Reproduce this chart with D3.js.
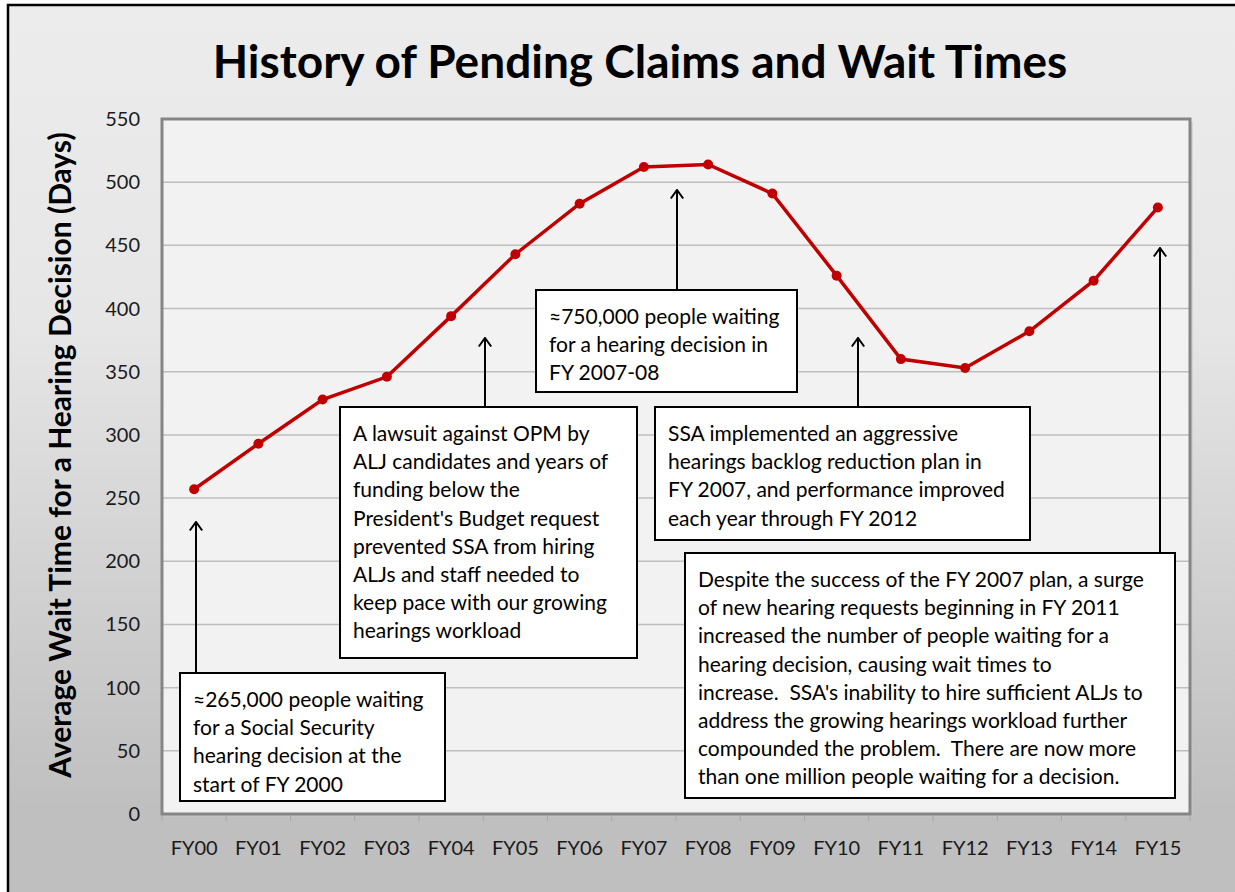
<!DOCTYPE html>
<html>
<head>
<meta charset="utf-8">
<script src="https://cdn.jsdelivr.net/npm/d3@7"></script>
<style>
  body { margin: 0; background: #fff; overflow: hidden; }
  svg { display: block; }
  text { font-family: Lato, "Open Sans", sans-serif; }
</style>
</head>
<body>
<div id="canvas"></div>
<script>
const years = ["FY00", "FY01", "FY02", "FY03", "FY04", "FY05", "FY06", "FY07",
  "FY08", "FY09", "FY10", "FY11", "FY12", "FY13", "FY14", "FY15"];
const waitDays = [257, 293, 328, 346, 394, 443, 483, 512, 514, 491, 426, 360, 353, 382, 422, 480];
const yTicks = [0, 50, 100, 150, 200, 250, 300, 350, 400, 450, 500, 550];

// callout boxes (pixel layout) and the arrow each one carries
const notes = [
  { x: 180, y: 673, w: 265, h: 128, ax: 196, ay: 522,
    lines: ["\u2248265,000 people waiting", "for a Social Security", "hearing decision at the", "start of FY 2000"] },
  { x: 340, y: 407, w: 297, h: 251, ax: 485, ay: 338,
    lines: ["A lawsuit against OPM by", "ALJ candidates and years of", "funding below the",
      "President's Budget request", "prevented SSA from hiring", "ALJs and staff needed to",
      "keep pace with our growing", "hearings workload"] },
  { x: 536, y: 290, w: 261, h: 102, ax: 677, ay: 190,
    lines: ["\u2248750,000 people waiting", "for a hearing decision in", "FY 2007-08"] },
  { x: 655, y: 407, w: 375, h: 133, ax: 858, ay: 338,
    lines: ["SSA implemented an aggressive", "hearings backlog reduction plan in",
      "FY 2007, and performance improved", "each year through FY 2012"] },
  { x: 685, y: 553, w: 490, h: 245, ax: 1160, ay: 248,
    lines: ["Despite the success of the FY 2007 plan, a surge",
      "of new hearing requests beginning in FY 2011",
      "increased the number of people waiting for a",
      "hearing decision, causing wait times to",
      "increase.  SSA's inability to hire sufficient ALJs to",
      "address the growing hearings workload further",
      "compounded the problem.  There are now more",
      "than one million people waiting for a decision."] }
];

const width = 1235;
const height = 892;
const margin = { top: 119, left: 162, bottom: 78, right: 45 };
const iwidth = width - margin.left - margin.right;
const iheight = height - margin.top - margin.bottom;

const svg = d3.select("#canvas").append("svg")
  .attr("width", width)
  .attr("height", height);

const defs = svg.append("defs");
const grad = defs.append("linearGradient")
  .attr("id", "bg").attr("x1", 0).attr("y1", 0).attr("x2", 0).attr("y2", 1);
grad.append("stop").attr("offset", "0%").attr("stop-color", "#ececec");
grad.append("stop").attr("offset", "35%").attr("stop-color", "#e6e6e6");
grad.append("stop").attr("offset", "88%").attr("stop-color", "#bfbfbf");
grad.append("stop").attr("offset", "100%").attr("stop-color", "#bfbfbf");

const marker = defs.append("marker")
  .attr("id", "head")
  .attr("viewBox", "0 0 14 12")
  .attr("refX", 7).attr("refY", 1)
  .attr("markerWidth", 14).attr("markerHeight", 12)
  .attr("markerUnits", "userSpaceOnUse")
  .attr("orient", "0");
marker.append("path")
  .attr("d", "M0.8,9.5 L7,1 L13.2,9.5")
  .attr("fill", "none").attr("stroke", "#000").attr("stroke-width", 2);

// outer frame
svg.append("rect")
  .attr("x", 8).attr("y", 5)
  .attr("width", width + 20).attr("height", height + 20)
  .attr("fill", "url(#bg)")
  .attr("stroke", "#000").attr("stroke-width", 2.5);

svg.append("text")
  .attr("x", 640).attr("y", 78)
  .attr("text-anchor", "middle")
  .style("font-size", "46px").style("font-weight", "bold")
  .text("History of Pending Claims and Wait Times");

const x = d3.scaleBand().domain(years).range([0, iwidth]);
const y = d3.scaleLinear().domain([0, 550]).range([iheight, 0]);

const g = svg.append("g")
  .attr("transform", `translate(${margin.left},${margin.top})`);

// plot area with a faint shadow
g.append("rect")
  .attr("x", 3).attr("y", 3).attr("width", iwidth).attr("height", iheight)
  .attr("fill", "#c8c8c8").attr("opacity", 0.6);
g.append("rect")
  .attr("width", iwidth).attr("height", iheight)
  .attr("fill", "#f2f2f2");

g.selectAll(".grid")
  .data(yTicks.slice(1, -1))
  .enter().append("line")
  .attr("class", "grid")
  .attr("x1", 0).attr("x2", iwidth)
  .attr("y1", (d) => y(d)).attr("y2", (d) => y(d))
  .attr("stroke", "#bebebe").attr("stroke-width", 1.5);

g.append("rect")
  .attr("width", iwidth).attr("height", iheight)
  .attr("fill", "none").attr("stroke", "#858585").attr("stroke-width", 3);

// x axis ticks sit on the band edges
const xAxis = g.append("g")
  .attr("transform", `translate(0, ${iheight})`);
xAxis.selectAll(".tick")
  .data(years.concat(["end"]))
  .enter().append("line")
  .attr("x1", (d, i) => i * x.bandwidth()).attr("x2", (d, i) => i * x.bandwidth())
  .attr("y1", 1).attr("y2", 7)
  .attr("stroke", "#a6a6a6").attr("stroke-width", 1);
xAxis.selectAll(".lab")
  .data(years)
  .enter().append("text")
  .attr("x", (d) => x(d) + x.bandwidth() / 2)
  .attr("y", 41)
  .attr("text-anchor", "middle")
  .style("font-size", "20px").attr("fill", "#1a1a1a")
  .text((d) => d);

g.append("g").selectAll("text")
  .data(yTicks)
  .enter().append("text")
  .attr("x", -22)
  .attr("y", (d) => y(d) + 7)
  .attr("text-anchor", "end")
  .style("font-size", "20px").attr("fill", "#1a1a1a")
  .text((d) => d);

svg.append("text")
  .attr("transform", "translate(71, 455) rotate(-90)")
  .attr("text-anchor", "middle")
  .style("font-size", "30px").style("font-weight", "bold")
  .text("Average Wait Time for a Hearing Decision (Days)");

const line = d3.line()
  .x((d, i) => x(years[i]) + x.bandwidth() / 2)
  .y((d) => y(d));

g.append("path")
  .datum(waitDays)
  .attr("d", line)
  .attr("fill", "none")
  .attr("stroke", "#c00000").attr("stroke-width", 3.5);

g.selectAll(".dot")
  .data(waitDays)
  .enter().append("circle")
  .attr("cx", (d, i) => x(years[i]) + x.bandwidth() / 2)
  .attr("cy", (d) => y(d))
  .attr("r", 5)
  .attr("fill", "#c00000");

// callouts
const note = svg.selectAll(".note").data(notes).enter().append("g");
note.append("line")
  .attr("x1", (d) => d.ax).attr("x2", (d) => d.ax)
  .attr("y1", (d) => d.y).attr("y2", (d) => d.ay)
  .attr("stroke", "#000").attr("stroke-width", 2)
  .attr("marker-end", "url(#head)");
note.append("rect")
  .attr("x", (d) => d.x).attr("y", (d) => d.y)
  .attr("width", (d) => d.w).attr("height", (d) => d.h)
  .attr("fill", "#fff").attr("stroke", "#000").attr("stroke-width", 2);
note.each(function (d) {
  d3.select(this).selectAll("text")
    .data(d.lines)
    .enter().append("text")
    .attr("x", d.x + 13)
    .attr("y", (t, i) => d.y + 34 + i * 28.2)
    .style("font-size", "21px").attr("fill", "#000")
    .attr("xml:space", "preserve")
    .style("white-space", "pre")
    .text((t) => t);
});
</script>
</body>
</html>
